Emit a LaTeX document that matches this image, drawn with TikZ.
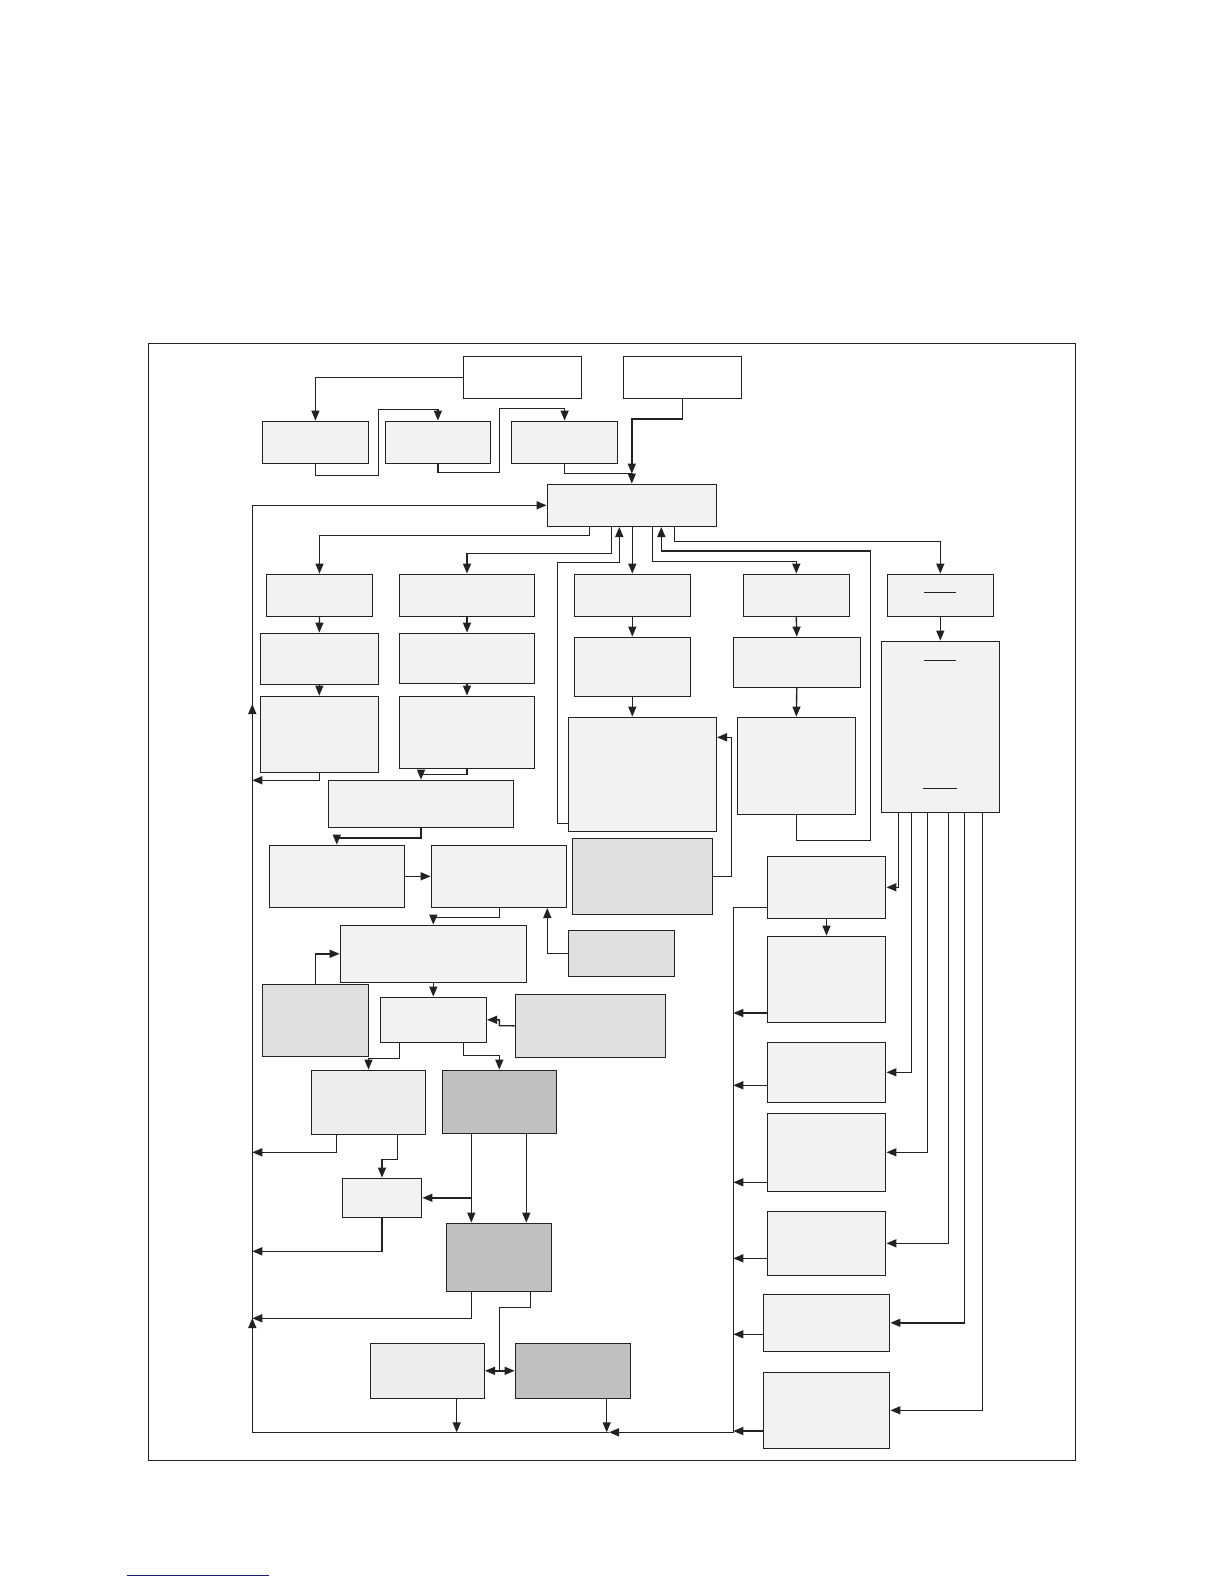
\documentclass[tikz,border=0pt]{standalone}
\usetikzlibrary{arrows.meta,fit}
\definecolor{lite}{HTML}{F2F2F2}
\definecolor{liteb}{HTML}{EDEDED}
\definecolor{midg}{HTML}{E0E0E0}
\definecolor{darkg}{HTML}{C0C0C0}
\definecolor{ink}{HTML}{222222}
\definecolor{navyline}{HTML}{1A1A80}
\tikzset{
  box/.style={draw=ink,line width=1.4pt,fill=lite,inner sep=0pt},
  wbox/.style={box,fill=white},
  mbox/.style={box,fill=midg},
  dbox/.style={box,fill=darkg},
  lbbox/.style={box,fill=liteb},
  ln/.style={draw=ink,line width=1.4pt},
  arr/.style={ln,-{Triangle[length=10pt,width=8pt]}},
  tick/.style={draw=ink,line width=1.2pt}
}
\newcommand\bx[6]{\node[#6,fit={(#2,#3)(#4,#5)}] (#1) {};}
\begin{document}
\begin{tikzpicture}[x=1pt,y=-1pt]
\useasboundingbox (0,0) rectangle (1224,1584);
% frame
\node[draw=ink,line width=1.4pt,inner sep=0pt,fit={(148.4,343.3)(1075.7,1460.3)}] (frame) {};
% boxes
\bx{T1}{463.3}{356.3}{581.6}{398.3}{wbox}
\bx{T2}{623.3}{356.3}{741.7}{398.3}{wbox}
\bx{A1}{262.5}{421.3}{368.4}{463.3}{box}
\bx{A2}{385.3}{421.3}{490.5}{463.3}{box}
\bx{A3}{511.6}{421.3}{617.6}{463.3}{box}
\bx{C}{547.3}{484.3}{716.3}{526.3}{box}
\bx{B1}{266.3}{574.3}{372.7}{616.3}{box}
\bx{B2}{399.3}{574.3}{534.7}{616.3}{box}
\bx{B3}{574.3}{574.3}{690.3}{616.3}{box}
\bx{B4}{743.3}{574.3}{849.3}{616.3}{box}
\bx{B5}{887.3}{574.3}{993.3}{616.3}{box}
\bx{C1}{260.3}{633.3}{378.3}{684.3}{box}
\bx{C2}{399.3}{633.3}{534.7}{683.3}{box}
\bx{C3}{574.3}{637.3}{690.3}{696.3}{box}
\bx{C4}{733.3}{637.3}{860.3}{687.3}{box}
\bx{C5}{881.3}{641.3}{999.3}{812.3}{box}
\bx{D1}{260.3}{696.3}{378.3}{772.3}{box}
\bx{D2}{399.3}{696.3}{534.7}{768.3}{box}
\bx{D3}{568.3}{717.3}{716.3}{831.3}{box}
\bx{D4}{737.3}{717.3}{855.3}{814.3}{box}
\bx{E}{328.3}{780.3}{513.7}{827.3}{box}
\bx{F1}{269.3}{845.3}{404.3}{907.3}{box}
\bx{F2}{431.3}{845.3}{566.3}{907.3}{box}
\bx{G}{572.3}{838.3}{712.5}{914.3}{mbox}
\bx{H1}{767.3}{856.3}{885.7}{918.3}{box}
\bx{H2}{767.3}{936.3}{885.7}{1022.3}{box}
\bx{H3}{767.3}{1042.3}{885.7}{1102.3}{box}
\bx{H4}{767.3}{1113.3}{885.7}{1191.3}{box}
\bx{H5}{767.3}{1211.3}{885.7}{1275.3}{box}
\bx{H6}{763.3}{1294.3}{889.7}{1351.3}{box}
\bx{H7}{763.3}{1372.3}{889.7}{1448.3}{box}
\bx{I}{340.3}{925.3}{526.3}{982.3}{box}
\bx{J}{568.3}{930.3}{674.3}{976.3}{mbox}
\bx{K}{262.3}{984.3}{368.3}{1056.3}{mbox}
\bx{L}{380.3}{997.3}{486.3}{1042.3}{box}
\bx{M}{515.3}{994.3}{665.3}{1057.3}{mbox}
\bx{N1}{311.3}{1070.3}{425.7}{1134.3}{lbbox}
\bx{N2}{442.3}{1070.3}{556.3}{1133.3}{dbox}
\bx{P}{342.3}{1178.3}{421.7}{1217.3}{box}
\bx{Q}{446.3}{1223.3}{551.7}{1291.3}{dbox}
\bx{R1}{370.3}{1343.3}{484.3}{1398.3}{lbbox}
\bx{R2}{515.3}{1343.3}{630.3}{1398.3}{dbox}
% short rules inside B5 and C5
\draw[tick] (924,592.3) -- (955.7,592.3);
\draw[tick] (924,660.3) -- (955.7,660.3);
\draw[tick] (923,788.3) -- (956.7,788.3);
% loop coordinates
\coordinate (LB) at (252.3,1432.3);
\coordinate (RB) at (733.3,1432.3);
\coordinate (MB) at (609,1432.3);
% top part
\draw[arr] (T1.west) -| (A1.north);
\draw[arr] (A1.south) -- (315.45,475.3) -- (378.4,475.3) -- (378.4,409.3) -| (A2.north);
\draw[arr] (A2.south) -- (437.9,472.3) -- (499.3,472.3) -- (499.3,408.3) -| (A3.north);
\draw[arr] (A3.south) |- ([yshift=10pt]C.north) -- (C.north);
\draw[arr] (T2.south) -- ++(0,20) -| ([yshift=10pt]C.north);
% left return loop
\draw[arr] (LB) -- (LB |- C.west) -- (C.west);
\draw[ln] (MB) -- (LB);
\draw[arr] (252.3,722) -- (252.3,704);
\draw[arr] (252.3,1336) -- (252.3,1318);
% from C downward
\draw[arr] (589.7,0 |- C.south) -- (589.7,535.3) -| (B1.north);
\draw[arr] (611.7,0 |- C.south) -- (611.7,553.3) -| (B2.north);
\draw[arr] (B3.north |- C.south) -- (B3.north);
\draw[arr] (652.3,0 |- C.south) -- (652.3,561.3) -| (B4.north);
\draw[arr] (674.3,0 |- C.south) -- (674.3,541.3) -| (B5.north);
% returns into C
\draw[arr] (D3.west |- 0,823.3) -- (557.3,823.3) -- (557.3,562.3) -- (619.3,562.3) -- (619.3,0 |- C.south);
\draw[arr] (D4.south) -- (796.3,840.3) -- (870.3,840.3) -- (870.3,551) -- (661.3,551) -- (661.3,0 |- C.south);
% columns
\draw[arr] (B1.south) -- (C1.north);
\draw[arr] (C1.south) -- (D1.north);
\draw[arr] (B2.south) -- (C2.north);
\draw[arr] (C2.south) -- (D2.north);
\draw[arr] (B3.south) -- (C3.north);
\draw[arr] (C3.south) -- (C3.south |- D3.north);
\draw[arr] (B4.south) -- (C4.north);
\draw[arr] (C4.south) -- (D4.north);
\draw[arr] (B5.south) -- (C5.north);
% middle left
\draw[arr] (D1.south) -- (319.3,780.3) -- (LB |- 0,780.3);
\draw[arr] (D2.south) -- (467,774.3) -| (E.north);
\draw[arr] (E.south) -- (421,838) -| (F1.north);
\draw[arr] (F1.east) -- (F2.west);
\draw[arr] (G.east) -- (731.3,876.3) -- (731.3,737.3) -- (D3.east |- 0,737.3);
\draw[arr] (499.3,0 |- F2.south) -- (499.3,917.3) -| (I.north);
\draw[arr] (J.west) -- (547.3,953.3) -- (547.3,0 |- F2.south);
\draw[arr] (K.north) -- (315.3,953.8) -- (I.west);
\draw[arr] (I.south) -- (L.north);
\draw[arr] (M.west) -- (499.3,1025.7) -- (499.3,1019.8) -- (L.east);
\draw[arr] (399.3,0 |- L.south) -- (399.3,1058.3) -| (N1.north);
\draw[arr] (463.3,0 |- L.south) -- (463.3,1055.3) -| (N2.north);
\draw[arr] (336.7,0 |- N1.south) -- (336.7,1152.3) -- (LB |- 0,1152.3);
\draw[arr] (397.3,0 |- N1.south) -- (397.3,1159.3) -| (P.north);
\draw[arr] (471.3,0 |- N2.south) -- (471.3,0 |- Q.north);
\draw[arr] (526.3,0 |- N2.south) -- (526.3,0 |- Q.north);
\draw[arr] (471.3,1197.8) -- (P.east);
\draw[arr] (P.south) -- (382,1251.3) -- (LB |- 0,1251.3);
\draw[arr] (471.3,0 |- Q.south) -- (471.3,1318.3) -- (LB |- 0,1318.3);
\draw[ln] (530.3,0 |- Q.south) -- (530.3,1307.3) -- (499.3,1307.3) -- (499.3,1370.8);
\draw[arr] (499.3,1370.8) -- (R1.east);
\draw[arr] (499.3,1370.8) -- (R2.west);
\draw[arr] (456.7,0 |- R1.south) -- (456.7,1432.3);
\draw[arr] (606.7,0 |- R2.south) -- (606.7,1432.3);
% right column
\draw[arr] (H1.west |- 0,907.3) -| (RB) -- (MB);
\draw[arr] (H1.south) -- (H2.north);
\draw[arr] (898.7,0 |- C5.south) |- (H1.east);
\draw[arr] (911.3,0 |- C5.south) |- (H3.east);
\draw[arr] (927.3,0 |- C5.south) |- (H4.east);
\draw[arr] (948.3,0 |- C5.south) |- (H5.east);
\draw[arr] (964.3,0 |- C5.south) |- (H6.east);
\draw[arr] (982.3,0 |- C5.south) |- (H7.east);
\draw[arr] (H2.west |- 0,1013) -- (RB |- 0,1013);
\draw[arr] (H3.west |- 0,1085.3) -- (RB |- 0,1085.3);
\draw[arr] (H4.west |- 0,1182.3) -- (RB |- 0,1182.3);
\draw[arr] (H5.west |- 0,1258.3) -- (RB |- 0,1258.3);
\draw[arr] (H6.west |- 0,1334.3) -- (RB |- 0,1334.3);
\draw[arr] (H7.west |- 0,1431) -- (RB |- 0,1431);
% footnote rule
\draw[navyline,line width=1.2pt] (127,1575.3) coordinate (fn1) -- (269,1575.3) coordinate (fn2);
\end{tikzpicture}
\end{document}
